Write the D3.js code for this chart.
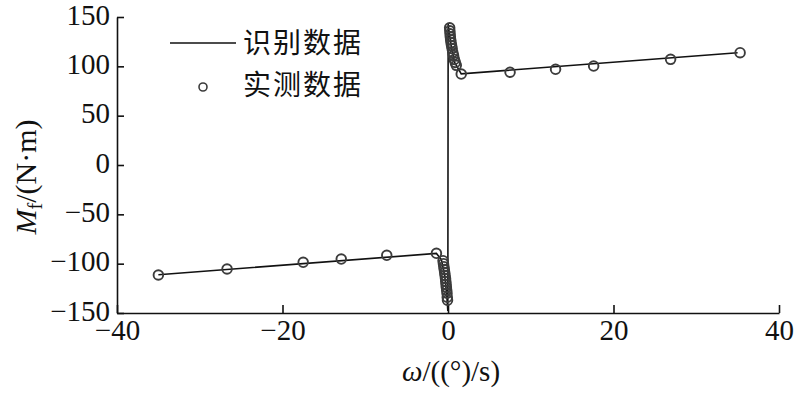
<!DOCTYPE html>
<html>
<head>
<meta charset="utf-8">
<style>
  body { margin: 0; background: #fff; }
  svg text { font-family: "Liberation Serif", "Times New Roman", Times, "DejaVu Serif", serif; fill: #111; }
  .legend text { font-family: "Noto Sans CJK SC", sans-serif; font-size: 28px; letter-spacing: 2px; }
</style>
<script src="https://d3js.org/d3.v7.min.js"></script>
</head>
<body>
<svg id="chart" width="800" height="393"></svg>
<script>
// measured points (实测数据)
const measX = [-35.0, -26.7, -17.5, -12.9, -7.4, -1.4,
  -0.6, -0.55, -0.5, -0.45, -0.4, -0.35, -0.3, -0.27, -0.23, -0.2, -0.16, -0.12, -0.09, -0.06,
  0.2, 0.22, 0.25, 0.28, 0.32, 0.37, 0.43, 0.5, 0.58, 0.67, 0.77, 0.88, 1.0,
  1.6, 7.5, 13.0, 17.6, 26.9, 35.3];
const measY = [-111.5, -105.4, -98.6, -95.3, -91.5, -89.5,
  -97, -100, -103, -106, -109, -112, -115, -118, -121, -124, -127, -130, -134, -137,
  139, 136, 133, 130, 127, 124, 121, 118, 114, 111, 107, 104, 101,
  92.2, 94.0, 97.0, 100.3, 107.1, 113.8];

// identified curve (识别数据)
const fitX = [-35, -1.4, -0.8, -0.4, -0.15, -0.02, 0.02, 0.15, 0.4, 0.8, 1.6, 35];
const fitY = [-111.2, -89.6, -96, -112, -132, -148, 143, 134, 120, 104, 92.4, 113.8];

const xTicks = [-40, -20, 0, 20, 40];
const yTicks = [-150, -100, -50, 0, 50, 100, 150];

const serif = '"Liberation Serif", "Times New Roman", Times, "DejaVu Serif", serif';

const svg = d3.select('#chart');
const x = d3.scaleLinear().domain([-40, 40]).range([117, 779]);
const y = d3.scaleLinear().domain([-150, 150]).range([313, 17]);

// axes, ticks pointing inward
const gx = svg.append('g')
  .attr('transform', 'translate(0,' + y(-150) + ')')
  .call(d3.axisBottom(x).tickValues(xTicks).tickSizeInner(-8).tickSizeOuter(0).tickPadding(9));
const gy = svg.append('g')
  .attr('transform', 'translate(' + x(-40) + ',0)')
  .call(d3.axisLeft(y).tickValues(yTicks).tickSizeInner(-7).tickSizeOuter(0).tickPadding(7));

[gx, gy].forEach(g => {
  g.attr('font-family', serif).attr('font-size', 29);
  g.select('.domain').attr('stroke', '#111').attr('stroke-width', 1.6);
  g.selectAll('.tick line').attr('stroke', '#111').attr('stroke-width', 1.6);
  g.selectAll('.tick text').attr('fill', '#111')
    .style('font-family', serif).style('font-size', '29px');
});
gx.selectAll('.tick text').attr('dy', '0.62em');
gy.selectAll('.tick text').attr('dy', '0.25em');

// fitted line
const line = d3.line().x(d => x(d[0])).y(d => y(d[1]));
svg.append('path')
  .datum(d3.zip(fitX, fitY))
  .attr('d', line)
  .attr('fill', 'none')
  .attr('stroke', '#111')
  .attr('stroke-width', 1.6);

// measured circles
svg.append('g').selectAll('circle')
  .data(d3.zip(measX, measY))
  .join('circle')
  .attr('cx', d => x(d[0]))
  .attr('cy', d => y(d[1]))
  .attr('r', 4.8)
  .attr('fill', 'none')
  .attr('stroke', '#3c3c3c')
  .attr('stroke-width', 1.9);

// axis titles
svg.append('text')
  .attr('x', 451).attr('y', 381)
  .attr('text-anchor', 'middle')
  .style('font-size', '29px')
  .html('<tspan font-style="italic">ω</tspan>/((°)/s)');

svg.append('text')
  .attr('transform', 'translate(36,177) rotate(-90)')
  .attr('text-anchor', 'middle')
  .style('font-size', '30px')
  .html('<tspan font-style="italic">M</tspan><tspan style="font-size:20px" dy="6">f</tspan><tspan dy="-6">/(N·m)</tspan>');

// legend
const lg = svg.append('g').attr('class', 'legend');
lg.append('line')
  .attr('x1', 170).attr('x2', 236).attr('y1', 43).attr('y2', 43)
  .attr('stroke', '#111').attr('stroke-width', 1.6);
lg.append('text').attr('x', 243).attr('y', 53).text('识别数据');
lg.append('circle')
  .attr('cx', 203).attr('cy', 87).attr('r', 4)
  .attr('fill', 'none').attr('stroke', '#3c3c3c').attr('stroke-width', 1.6);
lg.append('text').attr('x', 243).attr('y', 95).text('实测数据');
</script>
</body>
</html>
